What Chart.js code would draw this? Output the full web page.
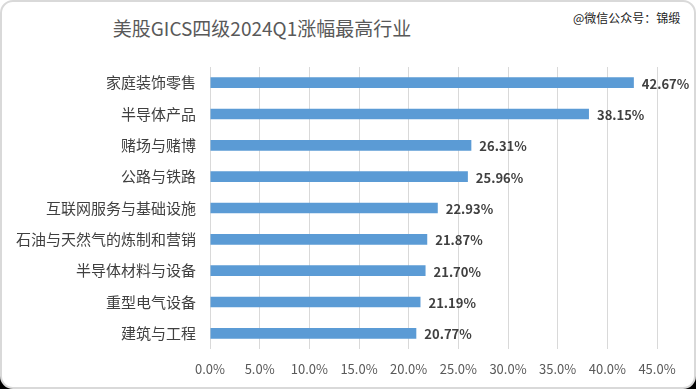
<!DOCTYPE html>
<html>
<head>
<meta charset="utf-8">
<script src="https://cdn.jsdelivr.net/npm/chart.js@4.4.1/dist/chart.umd.min.js"></script>
<style>
    html, body { margin: 0; padding: 0; background: #fff; }
    #page { position: relative; width: 696px; height: 389px; overflow: hidden; }
    #corner { position: absolute; left: 0; bottom: 0; width: 696px; height: 24px; background: #000; }
    #card {
        position: absolute; left: 0; top: 0; width: 696px; height: 389px;
        box-sizing: border-box; border: 2px solid #d9d9d9; border-radius: 13px; background: #fff;
    }
    #title {
        position: absolute; left: 0; width: 524px; top: 15px; text-align: center;
        font: 19px "Noto Sans CJK SC", sans-serif; color: #595959; line-height: 26px;
    }
    #mark {
        position: absolute; left: 573px; top: 9px;
        font: 12px "Noto Sans CJK SC", sans-serif; color: #222; line-height: 17px;
    }
    #chart { position: absolute; left: 0; top: 0; }
</style>
</head>
<body>
<div id="page">
    <div id="corner"></div>
    <div id="card"></div>
    <div id="title">美股GICS四级2024Q1涨幅最高行业</div>
    <div id="mark">@微信公众号：锦缎</div>
    <canvas id="chart" width="696" height="389"></canvas>
</div>
<script>
const industries = [
    "家庭装饰零售",
    "半导体产品",
    "赌场与赌博",
    "公路与铁路",
    "互联网服务与基础设施",
    "石油与天然气的炼制和营销",
    "半导体材料与设备",
    "重型电气设备",
    "建筑与工程"
];
const gains = [42.67, 38.15, 26.31, 25.96, 22.93, 21.87, 21.70, 21.19, 20.77];
const xTicks = [0, 5, 10, 15, 20, 25, 30, 35, 40, 45];

/**
 * Value labels at the end of each bar
 */
const barLabels = {
    id: "barLabels",
    afterDatasetsDraw(chart) {
        const ctx = chart.ctx;
        const meta = chart.getDatasetMeta(0);
        ctx.save();
        ctx.font = "bold 13px 'Noto Sans CJK SC', sans-serif";
        ctx.fillStyle = "#404040";
        ctx.textAlign = "left";
        ctx.textBaseline = "middle";
        meta.data.forEach((bar, i) => {
            ctx.fillText(gains[i].toFixed(2) + "%", bar.x + 8, bar.y + 1);
        });
        ctx.restore();
    }
};

new Chart(document.getElementById("chart"), {
    type: "bar",
    data: {
        labels: industries,
        datasets: [{
            data: gains,
            backgroundColor: "#5b9bd5",
            borderWidth: 0,
            barPercentage: 0.34,
            categoryPercentage: 1
        }]
    },
    options: {
        indexAxis: "y",
        responsive: false,
        animation: false,
        layout: { padding: { left: 0, right: 39, top: 67, bottom: 0 } },
        plugins: {
            legend: { display: false },
            tooltip: { enabled: false }
        },
        scales: {
            x: {
                min: 0,
                max: 45,
                afterBuildTicks: scale => {
                    scale.ticks = xTicks.map(v => ({ value: v }));
                },
                afterFit: scale => { scale.height = 40; },
                grid: { color: "#d9d9d9", lineWidth: 1, drawTicks: false },
                border: { display: false },
                ticks: {
                    padding: 12,
                    color: "#595959",
                    font: { size: 13, family: "'Noto Sans CJK SC', sans-serif" },
                    callback: v => v.toFixed(1) + "%"
                }
            },
            y: {
                afterFit: scale => { scale.width = 210; },
                grid: { display: false, drawTicks: false },
                border: { display: false },
                ticks: {
                    padding: 14,
                    color: "#404040",
                    font: { size: 15, family: "'Noto Sans CJK SC', sans-serif" }
                }
            }
        }
    },
    plugins: [barLabels]
});
</script>
</body>
</html>
